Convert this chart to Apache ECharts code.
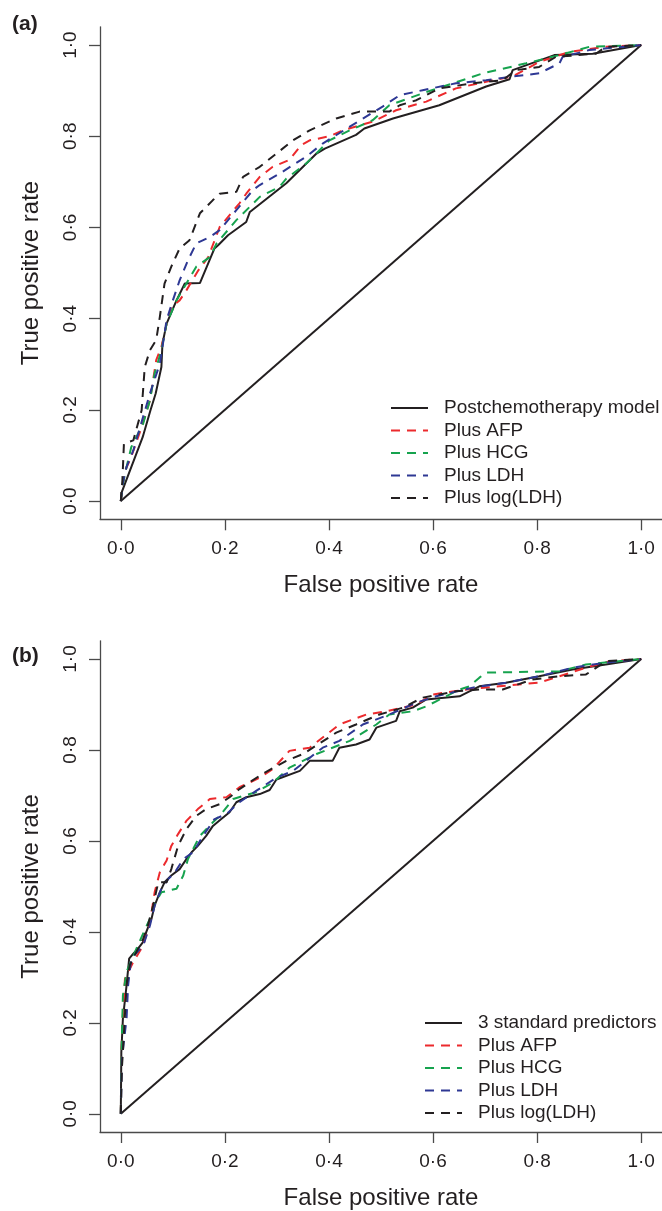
<!DOCTYPE html>
<html><head><meta charset="utf-8">
<script src="https://cdn.jsdelivr.net/npm/echarts@6/dist/echarts.min.js"></script>
<style>html,body{margin:0;padding:0;background:#fff}#c{width:662px;height:1211px}</style>
</head><body><div id="c"></div>
<script>
// ---------- data ----------
const tickValues = [0, 0.2, 0.4, 0.6, 0.8, 1.0];
const tickLabels = ['0·0', '0·2', '0·4', '0·6', '0·8', '1·0'];
const diagonal = [[0, 0], [1, 1]];
const namesA = ['Postchemotherapy model', 'Plus AFP', 'Plus HCG', 'Plus LDH', 'Plus log(LDH)'];
const namesB = ['3 standard predictors', 'Plus AFP', 'Plus HCG', 'Plus LDH', 'Plus log(LDH)'];

// Panel (a)
const aModel = [[0,0],[0.002,0.02],[0.042,0.14],[0.057,0.199],[0.067,0.236],[0.078,0.294],[0.080,0.345],[0.088,0.389],[0.107,0.44],[0.123,0.477],[0.152,0.478],[0.180,0.554],[0.187,0.561],[0.206,0.583],[0.241,0.612],[0.248,0.634],[0.318,0.697],[0.376,0.762],[0.392,0.773],[0.452,0.803],[0.468,0.817],[0.523,0.839],[0.612,0.868],[0.702,0.909],[0.747,0.925],[0.753,0.945],[0.833,0.978],[0.907,0.981],[1,1]];
const aAFP = [[0,0],[0.003,0.03],[0.008,0.066],[0.020,0.097],[0.040,0.162],[0.056,0.221],[0.068,0.309],[0.078,0.338],[0.088,0.389],[0.097,0.426],[0.113,0.44],[0.126,0.462],[0.149,0.506],[0.168,0.535],[0.19,0.601],[0.228,0.653],[0.241,0.674],[0.267,0.711],[0.292,0.733],[0.324,0.748],[0.347,0.781],[0.363,0.791],[0.401,0.8],[0.427,0.813],[0.484,0.832],[0.529,0.857],[0.587,0.876],[0.644,0.905],[0.715,0.923],[0.753,0.931],[0.804,0.963],[0.862,0.985],[0.932,0.996],[1,1]];
const aHCG = [[0,0],[0.003,0.03],[0.008,0.06],[0.02,0.118],[0.043,0.17],[0.056,0.221],[0.065,0.28],[0.078,0.331],[0.088,0.389],[0.107,0.44],[0.126,0.477],[0.145,0.514],[0.171,0.535],[0.184,0.565],[0.222,0.616],[0.267,0.667],[0.305,0.689],[0.318,0.707],[0.356,0.74],[0.401,0.791],[0.44,0.813],[0.484,0.835],[0.516,0.868],[0.587,0.897],[0.638,0.916],[0.696,0.938],[0.779,0.96],[0.843,0.978],[0.9,0.996],[1,1]];
const aLDH = [[0,0],[0.004,0.04],[0.011,0.075],[0.024,0.111],[0.056,0.236],[0.075,0.301],[0.088,0.397],[0.1,0.44],[0.113,0.484],[0.129,0.528],[0.145,0.565],[0.171,0.579],[0.19,0.594],[0.222,0.638],[0.254,0.682],[0.267,0.693],[0.305,0.718],[0.356,0.755],[0.388,0.784],[0.44,0.821],[0.503,0.865],[0.536,0.89],[0.58,0.901],[0.644,0.916],[0.702,0.923],[0.753,0.931],[0.804,0.938],[0.843,0.96],[0.849,0.974],[0.9,0.989],[1,1]];
const aLogLDH = [[0,0],[0.003,0.045],[0.006,0.126],[0.024,0.133],[0.04,0.199],[0.046,0.294],[0.056,0.331],[0.068,0.353],[0.075,0.404],[0.084,0.477],[0.097,0.514],[0.113,0.554],[0.132,0.572],[0.152,0.631],[0.177,0.66],[0.19,0.674],[0.222,0.678],[0.235,0.711],[0.267,0.733],[0.299,0.762],[0.331,0.791],[0.363,0.813],[0.414,0.839],[0.459,0.854],[0.516,0.854],[0.536,0.868],[0.568,0.879],[0.612,0.905],[0.676,0.916],[0.734,0.923],[0.759,0.945],[0.804,0.952],[0.836,0.974],[0.913,0.981],[0.932,0.996],[1,1]];

// Panel (b)
const bStd = [[0,0],[0.001,0.136],[0.004,0.209],[0.011,0.282],[0.016,0.341],[0.024,0.352],[0.033,0.363],[0.043,0.378],[0.049,0.4],[0.059,0.429],[0.065,0.458],[0.075,0.487],[0.084,0.509],[0.097,0.524],[0.113,0.538],[0.126,0.56],[0.136,0.575],[0.148,0.589],[0.164,0.611],[0.177,0.633],[0.193,0.648],[0.209,0.663],[0.222,0.685],[0.241,0.696],[0.267,0.703],[0.286,0.712],[0.299,0.735],[0.344,0.754],[0.363,0.776],[0.407,0.776],[0.42,0.805],[0.452,0.812],[0.478,0.823],[0.491,0.849],[0.529,0.864],[0.536,0.885],[0.561,0.893],[0.587,0.911],[0.651,0.918],[0.67,0.929],[0.689,0.94],[0.74,0.948],[0.804,0.962],[0.868,0.977],[0.932,0.988],[1,1]];
const bAFP = [[0,0],[0.001,0.13],[0.004,0.22],[0.008,0.297],[0.024,0.334],[0.043,0.37],[0.056,0.421],[0.062,0.465],[0.065,0.487],[0.075,0.531],[0.088,0.557],[0.097,0.589],[0.11,0.615],[0.126,0.644],[0.148,0.67],[0.171,0.692],[0.203,0.696],[0.228,0.718],[0.267,0.739],[0.292,0.758],[0.324,0.798],[0.363,0.805],[0.42,0.856],[0.472,0.878],[0.51,0.885],[0.568,0.9],[0.6,0.922],[0.664,0.933],[0.727,0.94],[0.804,0.948],[0.843,0.962],[0.894,0.981],[0.939,0.995],[1,1]];
const bHCG = [[0,0],[0.001,0.12],[0.004,0.26],[0.011,0.312],[0.03,0.363],[0.04,0.389],[0.056,0.429],[0.065,0.462],[0.078,0.487],[0.107,0.495],[0.12,0.524],[0.129,0.56],[0.152,0.611],[0.177,0.641],[0.19,0.655],[0.216,0.692],[0.235,0.699],[0.26,0.707],[0.292,0.728],[0.324,0.761],[0.376,0.791],[0.44,0.82],[0.491,0.856],[0.516,0.878],[0.561,0.885],[0.587,0.896],[0.606,0.907],[0.651,0.933],[0.67,0.94],[0.689,0.959],[0.702,0.97],[0.843,0.973],[0.894,0.988],[1,1]];
const bLDH = [[0,0],[0.002,0.12],[0.011,0.209],[0.014,0.282],[0.02,0.341],[0.043,0.37],[0.056,0.414],[0.065,0.458],[0.078,0.495],[0.091,0.516],[0.104,0.531],[0.12,0.56],[0.139,0.575],[0.158,0.611],[0.18,0.648],[0.203,0.659],[0.228,0.685],[0.26,0.71],[0.299,0.739],[0.331,0.754],[0.388,0.805],[0.42,0.82],[0.465,0.856],[0.516,0.878],[0.568,0.904],[0.606,0.918],[0.676,0.937],[0.74,0.948],[0.804,0.962],[0.868,0.981],[0.932,0.992],[1,1]];
const bLogLDH = [[0,0],[0.002,0.1],[0.004,0.136],[0.011,0.282],[0.017,0.326],[0.03,0.356],[0.043,0.385],[0.052,0.414],[0.062,0.458],[0.072,0.509],[0.088,0.509],[0.097,0.538],[0.11,0.589],[0.126,0.626],[0.145,0.655],[0.164,0.67],[0.19,0.681],[0.209,0.696],[0.228,0.714],[0.273,0.748],[0.318,0.776],[0.35,0.791],[0.414,0.838],[0.452,0.856],[0.497,0.878],[0.542,0.893],[0.58,0.915],[0.644,0.929],[0.689,0.933],[0.734,0.933],[0.791,0.955],[0.843,0.962],[0.894,0.966],[0.932,0.995],[1,1]];

// ---------- styling ----------
const FONT = '"Liberation Sans", Arial, Helvetica, sans-serif';
const AX = '#4a4a4a';
const TXT = '#231f20';
const COLORS = ['#231f20', '#ec2a2d', '#16a34e', '#2e3894', '#231f20'];
const DASH = [9, 7];

function fmt(v) {
  for (let i = 0; i < tickValues.length; i++) if (Math.abs(tickValues[i] - v) < 1e-9) return tickLabels[i];
  return '';
}
function xAxis(gi) {
  return {
    type: 'value', gridIndex: gi, min: -0.04, max: 1.04,
    name: 'False positive rate', nameLocation: 'middle', nameGap: 54,
    nameTextStyle: { fontSize: 24, color: TXT, fontFamily: FONT },
    axisLine: { show: true, onZero: false, lineStyle: { color: AX, width: 1.3 } },
    axisTick: { show: true, customValues: tickValues, length: 11, lineStyle: { color: AX, width: 1.3 } },
    axisLabel: { customValues: tickValues, formatter: fmt, fontSize: 19, color: TXT, fontFamily: FONT, margin: 20 },
    splitLine: { show: false }
  };
}
function yAxis(gi) {
  return {
    type: 'value', gridIndex: gi, min: -0.04, max: 1.04,
    name: 'True positive rate', nameLocation: 'middle', nameGap: 57,
    nameTextStyle: { fontSize: 24, color: TXT, fontFamily: FONT },
    axisLine: { show: true, onZero: false, lineStyle: { color: AX, width: 1.3 } },
    axisTick: { show: true, customValues: tickValues, length: 11, lineStyle: { color: AX, width: 1.3 } },
    axisLabel: { customValues: tickValues, formatter: fmt, rotate: 90, fontSize: 19, color: TXT, fontFamily: FONT, margin: 20 },
    splitLine: { show: false }
  };
}
function curve(name, data, gi, idx) {
  return {
    type: 'line', name: name, data: data, xAxisIndex: gi, yAxisIndex: gi,
    symbol: 'none', showSymbol: false, silent: true, animation: false, z: 3 + idx,
    itemStyle: { color: COLORS[idx] },
    lineStyle: { color: COLORS[idx], width: 2, type: idx === 0 ? 'solid' : DASH }
  };
}
function diag(gi) {
  return {
    type: 'line', data: diagonal, xAxisIndex: gi, yAxisIndex: gi, symbol: 'none', silent: true,
    animation: false, z: 2, lineStyle: { color: '#231f20', width: 2 }
  };
}
function legend(names, left, top) {
  return {
    data: names, orient: 'vertical', left: left, top: top, itemWidth: 37, itemHeight: 14, itemGap: 0,
    selectedMode: false, padding: 0,
    itemStyle: { opacity: 0 },
    textStyle: { fontSize: 19, lineHeight: 22.5, color: TXT, fontFamily: FONT, padding: [0, 0, 0, 11] }
  };
}

const seriesA = [aModel, aAFP, aHCG, aLDH, aLogLDH];
const seriesB = [bStd, bAFP, bHCG, bLDH, bLogLDH];

const option = {
  backgroundColor: '#fff',
  animation: false,
  title: [
    { text: '(a)', left: 12, top: 14, padding: 0, textStyle: { fontSize: 21, fontWeight: 'bold', color: TXT, fontFamily: FONT } },
    { text: '(b)', left: 12, top: 646, padding: 0, textStyle: { fontSize: 21, fontWeight: 'bold', color: TXT, fontFamily: FONT } }
  ],
  grid: [
    { left: 100, top: 26.8, width: 562.7, height: 492.5 },
    { left: 100, top: 640.8, width: 562.7, height: 492.5 }
  ],
  xAxis: [xAxis(0), xAxis(1)],
  yAxis: [yAxis(0), yAxis(1)],
  legend: [legend(namesA, 390, 396.8), legend(namesB, 424, 1011.8)],
  series: [diag(0), diag(1)]
    .concat(seriesA.map((d, i) => curve(namesA[i], d, 0, i)))
    .concat(seriesB.map((d, i) => curve(namesB[i], d, 1, i)))
};

const chart = echarts.init(document.getElementById('c'), null, { renderer: 'canvas' });
chart.setOption(option);
</script>
</body></html>
